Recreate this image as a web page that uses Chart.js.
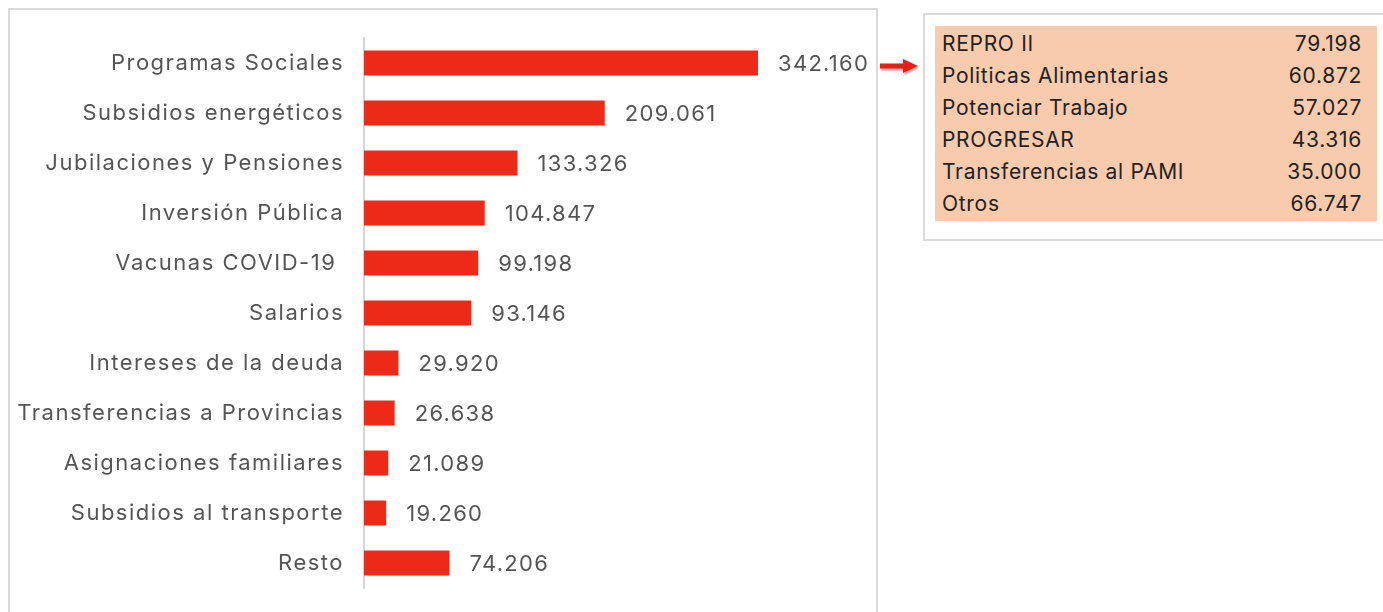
<!DOCTYPE html>
<html>
<head>
<meta charset="utf-8">
<script src="https://cdn.jsdelivr.net/npm/chart.js@4.4.1/dist/chart.umd.min.js"></script>
<style>
  html, body { margin: 0; padding: 0; background: #ffffff; }
  #wrap { position: relative; width: 1383px; height: 612px; overflow: hidden; }
  #leftPanel { position: absolute; left: 8px; top: 8px; width: 870px; height: 640px; border: 2px solid #dadada; box-sizing: border-box; }
  #rightPanel { position: absolute; left: 923px; top: 13px; width: 480px; height: 228px; border: 2px solid #dadada; box-sizing: border-box; }
  #peach { position: absolute; left: 935px; top: 26px; width: 442px; height: 195px; background: #f8cbad; }
  .row { position: absolute; left: 942px; width: 420px; height: 32px; font-family: Inter, sans-serif; font-size: 21px; letter-spacing: 0.7px; color: #222222; line-height: 32px; }
  .row .n { position: absolute; right: 0; top: 0; }
  canvas { position: absolute; left: 0; top: 0; }
  #arrow { position: absolute; left: 0; top: 0; }
</style>
</head>
<body>
<div id="wrap">
  <div id="leftPanel"></div>
  <div id="rightPanel"></div>
  <div id="peach"></div>
  <div id="rows"></div>
  <canvas id="c" width="1383" height="612"></canvas>
  <svg id="arrow" width="1383" height="612">
    <defs>
      <filter id="sh" x="-20%" y="-50%" width="140%" height="200%">
        <feDropShadow dx="1" dy="2" stdDeviation="1.2" flood-color="#000" flood-opacity="0.35"/>
      </filter>
    </defs>
    <polygon points="880,63.5 903,63.5 903,59 918,66 903,73 903,68.5 880,68.5" fill="#ee1c14" filter="url(#sh)"/>
  </svg>
</div>
<script>
const categories = [
  "Programas Sociales",
  "Subsidios energéticos",
  "Jubilaciones y Pensiones",
  "Inversión Pública",
  "Vacunas COVID-19 ",
  "Salarios",
  "Intereses de la deuda",
  "Transferencias a Provincias",
  "Asignaciones familiares",
  "Subsidios al transporte",
  "Resto"
];
const values = [342160, 209061, 133326, 104847, 99198, 93146, 29920, 26638, 21089, 19260, 74206];

const detailLabels = ["REPRO II", "Politicas Alimentarias", "Potenciar Trabajo", "PROGRESAR", "Transferencias al PAMI", "Otros"];
const detailValues = [79198, 60872, 57027, 43316, 35000, 66747];

function fmt(v) {
  return String(v).replace(/\B(?=(\d{3})+(?!\d))/g, ".");
}

// Build detail table
const rowsEl = document.getElementById("rows");
detailLabels.forEach((lab, i) => {
  const r = document.createElement("div");
  r.className = "row";
  r.style.top = (28 + i * 32) + "px";
  const a = document.createElement("span");
  a.textContent = lab;
  const b = document.createElement("span");
  b.className = "n";
  b.textContent = fmt(detailValues[i]);
  r.appendChild(a);
  r.appendChild(b);
  rowsEl.appendChild(r);
});

const FONT = "Inter, sans-serif";

const spacing = {
  id: "spacing",
  beforeDraw(chart) { chart.ctx.letterSpacing = "1.5px"; },
  afterDraw(chart) { chart.ctx.letterSpacing = "0px"; }
};

const valueLabels = {
  id: "valueLabels",
  afterDatasetsDraw(chart) {
    const ctx = chart.ctx;
    const meta = chart.getDatasetMeta(0);
    ctx.save();
    ctx.letterSpacing = "1.3px";
    ctx.font = "22px " + FONT;
    ctx.fillStyle = "#555555";
    ctx.textAlign = "left";
    ctx.textBaseline = "middle";
    meta.data.forEach((bar, i) => {
      ctx.fillText(fmt(values[i]), bar.x + 20, bar.y + 1);
    });
    ctx.restore();
  }
};

new Chart(document.getElementById("c"), {
  type: "bar",
  data: {
    labels: categories,
    datasets: [{
      data: values,
      backgroundColor: "#ec2a17",
      borderWidth: 0,
      barPercentage: 0.5,
      categoryPercentage: 1.0
    }]
  },
  options: {
    indexAxis: "y",
    responsive: false,
    animation: false,
    layout: { padding: { top: 38, bottom: 24, left: 0, right: 506 } },
    plugins: { legend: { display: false }, tooltip: { enabled: false } },
    scales: {
      x: {
        display: false,
        min: 0,
        max: 445500
      },
      y: {
        afterFit(scale) { scale.width = 364; scale.paddingTop = 0; scale.paddingBottom = 0; },
        grid: { display: false, drawTicks: false },
        border: { display: true, color: "#d6d6d6", width: 2 },
        ticks: {
          padding: 20,
          color: "#555555",
          font: { family: FONT, size: 22 }
        }
      }
    }
  },
  plugins: [spacing, valueLabels]
});
</script>
</body>
</html>
